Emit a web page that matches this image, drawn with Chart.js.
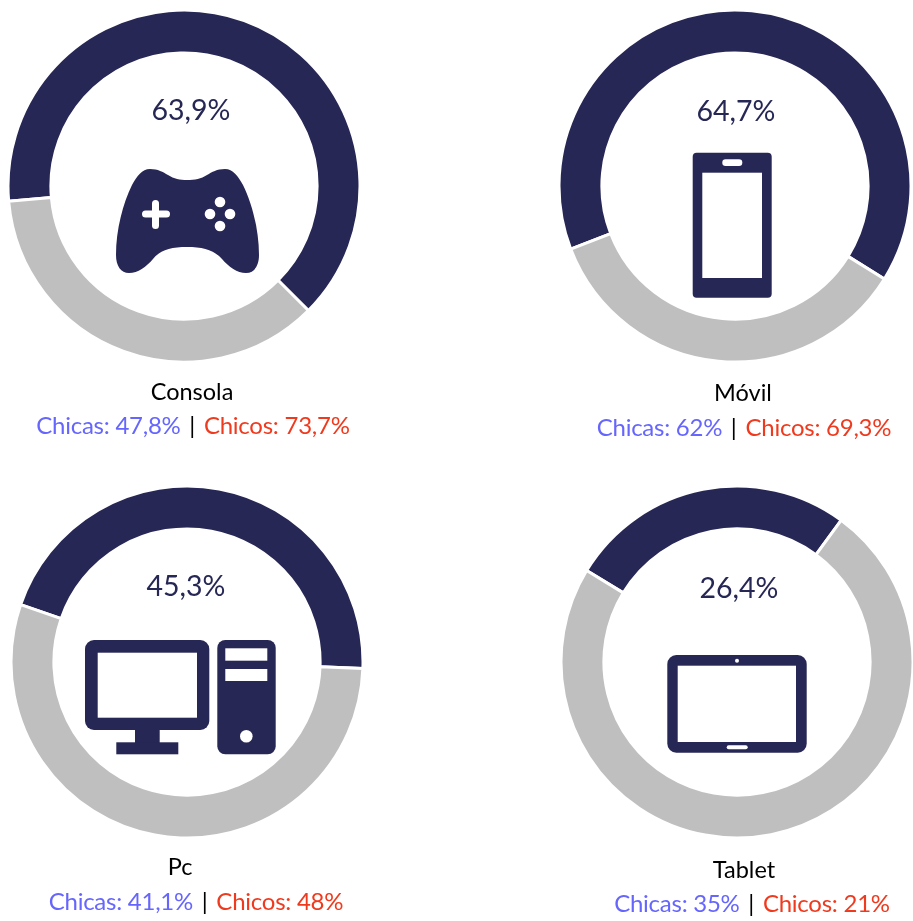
<!DOCTYPE html>
<html lang="es">
<head>
<meta charset="utf-8">
<title>Uso de dispositivos</title>
<script src="https://cdn.jsdelivr.net/npm/chart.js@4/dist/chart.umd.min.js"></script>
<style>
    html, body { margin: 0; padding: 0; background: #fff; }
    #page { position: relative; width: 913px; height: 921px; overflow: hidden; font-family: Lato, sans-serif; }
    #page canvas { position: absolute; }
    #icons { position: absolute; left: 0; top: 0; }
    .txt { position: absolute; transform: translate(-50%, -50%); white-space: nowrap; line-height: 1; }
    .pct { font-size: 28.5px; color: #262755; }
    .cat { font-size: 23.5px; color: #000; }
    .row { font-size: 24px; color: #000; }
    .chicas { color: #6666ff; letter-spacing: -0.25px; }
    .chicos { color: #f03a1e; letter-spacing: -0.25px; }
    .sep { margin: 0 2.5px; }
</style>
</head>
<body>
<div id="page">
    <svg id="icons" width="913" height="921" fill="#262755" style="z-index:2">
        <!-- mando -->
        <path d="M150 169 C158 169 163 172 168 175 C174 179 180 180 187 180 C195 180 201 179 207 175 C212 172 217 169 225 169 C233 169 238 176 243 185 C252 203 259 230 259 255 C259 266 254 273 246 273 C237 273 229 267 222 259 C214 250 203 247 187 247 C171 247 160 250 153 259 C146 267 138 273 129 273 C121 273 116 266 116 255 C116 230 123 203 132 185 C137 176 142 169 150 169 Z"/>
        <g fill="#fff">
            <rect x="142" y="210.5" width="28" height="7" rx="3.5"/>
            <rect x="152" y="200" width="7" height="29" rx="3.5"/>
            <circle cx="220" cy="202" r="5.3"/>
            <circle cx="210" cy="214" r="5.3"/>
            <circle cx="230" cy="214" r="5.3"/>
            <circle cx="220" cy="226" r="5.3"/>
        </g>
        <!-- movil -->
        <rect x="692.7" y="152.7" width="79" height="145" rx="4"/>
        <g fill="#fff">
            <rect x="702.3" y="172.7" width="59.7" height="105.3"/>
            <rect x="722.3" y="159.3" width="20" height="6.7" rx="3.3"/>
        </g>
        <!-- pc -->
        <rect x="85" y="640" width="124.3" height="90" rx="9"/>
        <rect x="135" y="728" width="24.7" height="16"/>
        <rect x="116.3" y="742.3" width="62" height="12"/>
        <rect x="217.3" y="640" width="58.4" height="114.3" rx="8"/>
        <g fill="#fff">
            <rect x="97.7" y="652.7" width="99.3" height="65"/>
            <rect x="225.3" y="648.3" width="42" height="12.4"/>
            <rect x="225.3" y="669" width="42" height="12"/>
            <circle cx="246.3" cy="736.3" r="6.3"/>
        </g>
        <!-- tablet -->
        <rect x="667.3" y="655" width="139.4" height="97.7" rx="9"/>
        <g fill="#fff">
            <rect x="677.7" y="665.7" width="118.3" height="76.3"/>
            <circle cx="737" cy="660.7" r="2"/>
            <rect x="726.7" y="745.3" width="21" height="4" rx="2"/>
        </g>
    </svg>
</div>
<script>
var categorias = ["Consola", "Móvil", "Pc", "Tablet"];
var totales = [63.9, 64.7, 45.3, 26.4];
var chicas = [47.8, 62, 41.1, 35];
var chicos = [73.7, 69.3, 48, 21];

// donde va cada dona y su texto
var centros = [[184, 186], [735, 186], [187, 662], [737, 662]];
var giros = [-95, -111, -71, -58.7];
var posPct = [[191, 109], [736, 110], [186, 585], [739, 587]];
var posCat = [[192, 392], [743, 393], [180, 867], [744, 870]];
var posFila = [[193, 425], [744, 427], [196, 901], [752, 903]];

var page = document.getElementById("page");

function coma(v) {
    return String(v).replace(".", ",") + "%";
}

function texto(clase, pos, html) {
    var d = document.createElement("div");
    d.className = "txt " + clase;
    d.style.left = pos[0] + "px";
    d.style.top = pos[1] + "px";
    d.style.zIndex = 3;
    d.innerHTML = html;
    page.appendChild(d);
}

for (var i = 0; i < categorias.length; i++) {
    var c = document.createElement("canvas");
    c.width = 360;
    c.height = 360;
    c.style.left = centros[i][0] - 180 + "px";
    c.style.top = centros[i][1] - 180 + "px";
    page.appendChild(c);

    new Chart(c.getContext("2d"), {
        type: "doughnut",
        data: {
            labels: ["Sí", "No"],
            datasets: [
                {
                    data: [totales[i], 100 - totales[i]],
                    backgroundColor: ["#262755", "#bfbfbf"],
                    borderColor: "#fff",
                    borderWidth: 3,
                },
            ],
        },
        options: {
            responsive: false,
            animation: false,
            rotation: giros[i],
            radius: 176,
            cutout: 135,
            plugins: {
                legend: { display: false },
                tooltip: { enabled: false },
            },
        },
    });

    texto("pct", posPct[i], coma(totales[i]));
    texto("cat", posCat[i], categorias[i]);
    texto("row", posFila[i],
        '<span class="chicas">Chicas: ' + coma(chicas[i]) + '</span> <span class="sep">|</span> <span class="chicos">Chicos: ' + coma(chicos[i]) + "</span>");
}
</script>
</body>
</html>
